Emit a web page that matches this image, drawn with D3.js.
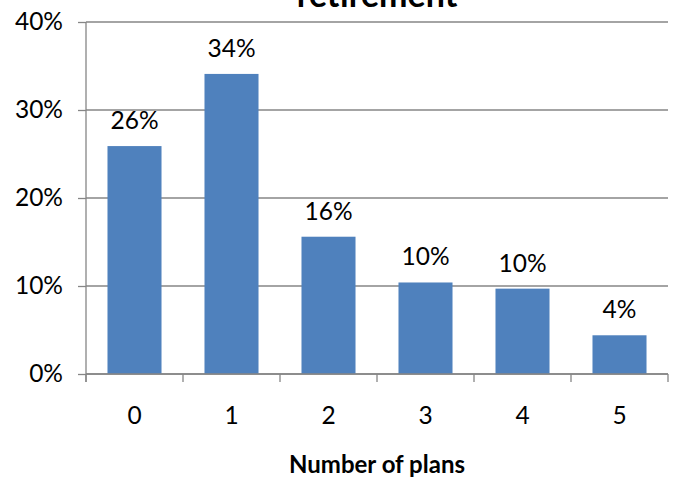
<!DOCTYPE html>
<html>
<head>
<meta charset="utf-8">
<script src="https://cdn.jsdelivr.net/npm/d3@7"></script>
<style>
  html, body { margin: 0; padding: 0; background: #fff; }
  svg { display: block; }
  text { font-family: Lato, "Open Sans", sans-serif; fill: #000; }
</style>
</head>
<body>
<svg id="chart" width="674" height="478"></svg>
<script>
// Share of respondents by number of retirement plans held
const planCounts = ["0", "1", "2", "3", "4", "5"];
const shareValues = [0.259, 0.341, 0.156, 0.104, 0.097, 0.044];
const yTickValues = [0, 0.1, 0.2, 0.3, 0.4];
const chartTitle = "retirement";
const xAxisTitle = "Number of plans";

const W = 674, H = 478;
const margin = { top: 22, right: 6, bottom: 104, left: 86 };
const x0 = margin.left, x1 = W - margin.right;
const y0 = H - margin.bottom, y1 = margin.top;

const axisColor = "#868686";
const barColor = "#4F81BD";
const labelSize = "24.5px";

const svg = d3.select("#chart");

const x = d3.scaleBand()
  .domain(planCounts)
  .range([x0, x1])
  .paddingInner(0.443)
  .paddingOuter(0.2215);

const y = d3.scaleLinear().domain([0, 0.4]).range([y0, y1]);

// horizontal gridlines
svg.append("g")
  .selectAll("line")
  .data(yTickValues)
  .join("line")
  .attr("x1", x0).attr("x2", x1)
  .attr("y1", d => y(d)).attr("y2", d => y(d))
  .attr("stroke", axisColor)
  .attr("stroke-width", 1.3);

// y axis
const yAxis = svg.append("g")
  .attr("transform", `translate(${x0},0)`)
  .call(d3.axisLeft(y).tickValues(yTickValues).tickFormat(d3.format(".0%")).tickSize(8).tickPadding(15));
yAxis.select(".domain").attr("stroke", axisColor).attr("stroke-width", 1.3)
  .attr("d", `M0,${y1}V${y0 + 8}`);
yAxis.selectAll(".tick line").attr("stroke", axisColor).attr("stroke-width", 1.3);
yAxis.selectAll(".tick text")
  .attr("font-size", labelSize)
  .style("font-family", "Lato, 'Open Sans', sans-serif")
  .attr("fill", "#000");

// bars
svg.append("g")
  .selectAll("rect")
  .data(planCounts)
  .join("rect")
  .attr("x", d => x(d))
  .attr("width", x.bandwidth())
  .attr("y", (d, i) => y(shareValues[i]))
  .attr("height", (d, i) => y0 - y(shareValues[i]))
  .attr("fill", barColor);

// x axis with boundary ticks between categories
const xg = svg.append("g");
xg.append("line")
  .attr("x1", x0).attr("x2", x1)
  .attr("y1", y0).attr("y2", y0)
  .attr("stroke", axisColor).attr("stroke-width", 1.3);
const boundaries = d3.range(planCounts.length + 1).map(i => x0 + i * x.step());
xg.selectAll("line.bt")
  .data(boundaries)
  .join("line")
  .attr("class", "bt")
  .attr("x1", d => d).attr("x2", d => d)
  .attr("y1", y0).attr("y2", y0 + 8)
  .attr("stroke", axisColor).attr("stroke-width", 1.3);
xg.selectAll("text")
  .data(planCounts)
  .join("text")
  .attr("x", d => x(d) + x.bandwidth() / 2)
  .attr("y", y0 + 50)
  .attr("text-anchor", "middle")
  .attr("font-size", labelSize)
  .text(d => d);

// value labels
svg.append("g")
  .selectAll("text")
  .data(planCounts)
  .join("text")
  .attr("x", d => x(d) + x.bandwidth() / 2)
  .attr("y", (d, i) => y(shareValues[i]) - 17)
  .attr("text-anchor", "middle")
  .attr("font-size", labelSize)
  .text((d, i) => d3.format(".0%")(shareValues[i]));

// axis title
svg.append("text")
  .attr("x", (x0 + x1) / 2)
  .attr("y", 473)
  .attr("text-anchor", "middle")
  .attr("font-size", "24px")
  .attr("font-weight", "bold")
  .text(xAxisTitle);

// chart title (last line)
svg.append("text")
  .attr("x", (x0 + x1) / 2)
  .attr("y", 7)
  .attr("text-anchor", "middle")
  .attr("font-size", "34px")
  .attr("font-weight", "bold")
  .text(chartTitle);
</script>
</body>
</html>
